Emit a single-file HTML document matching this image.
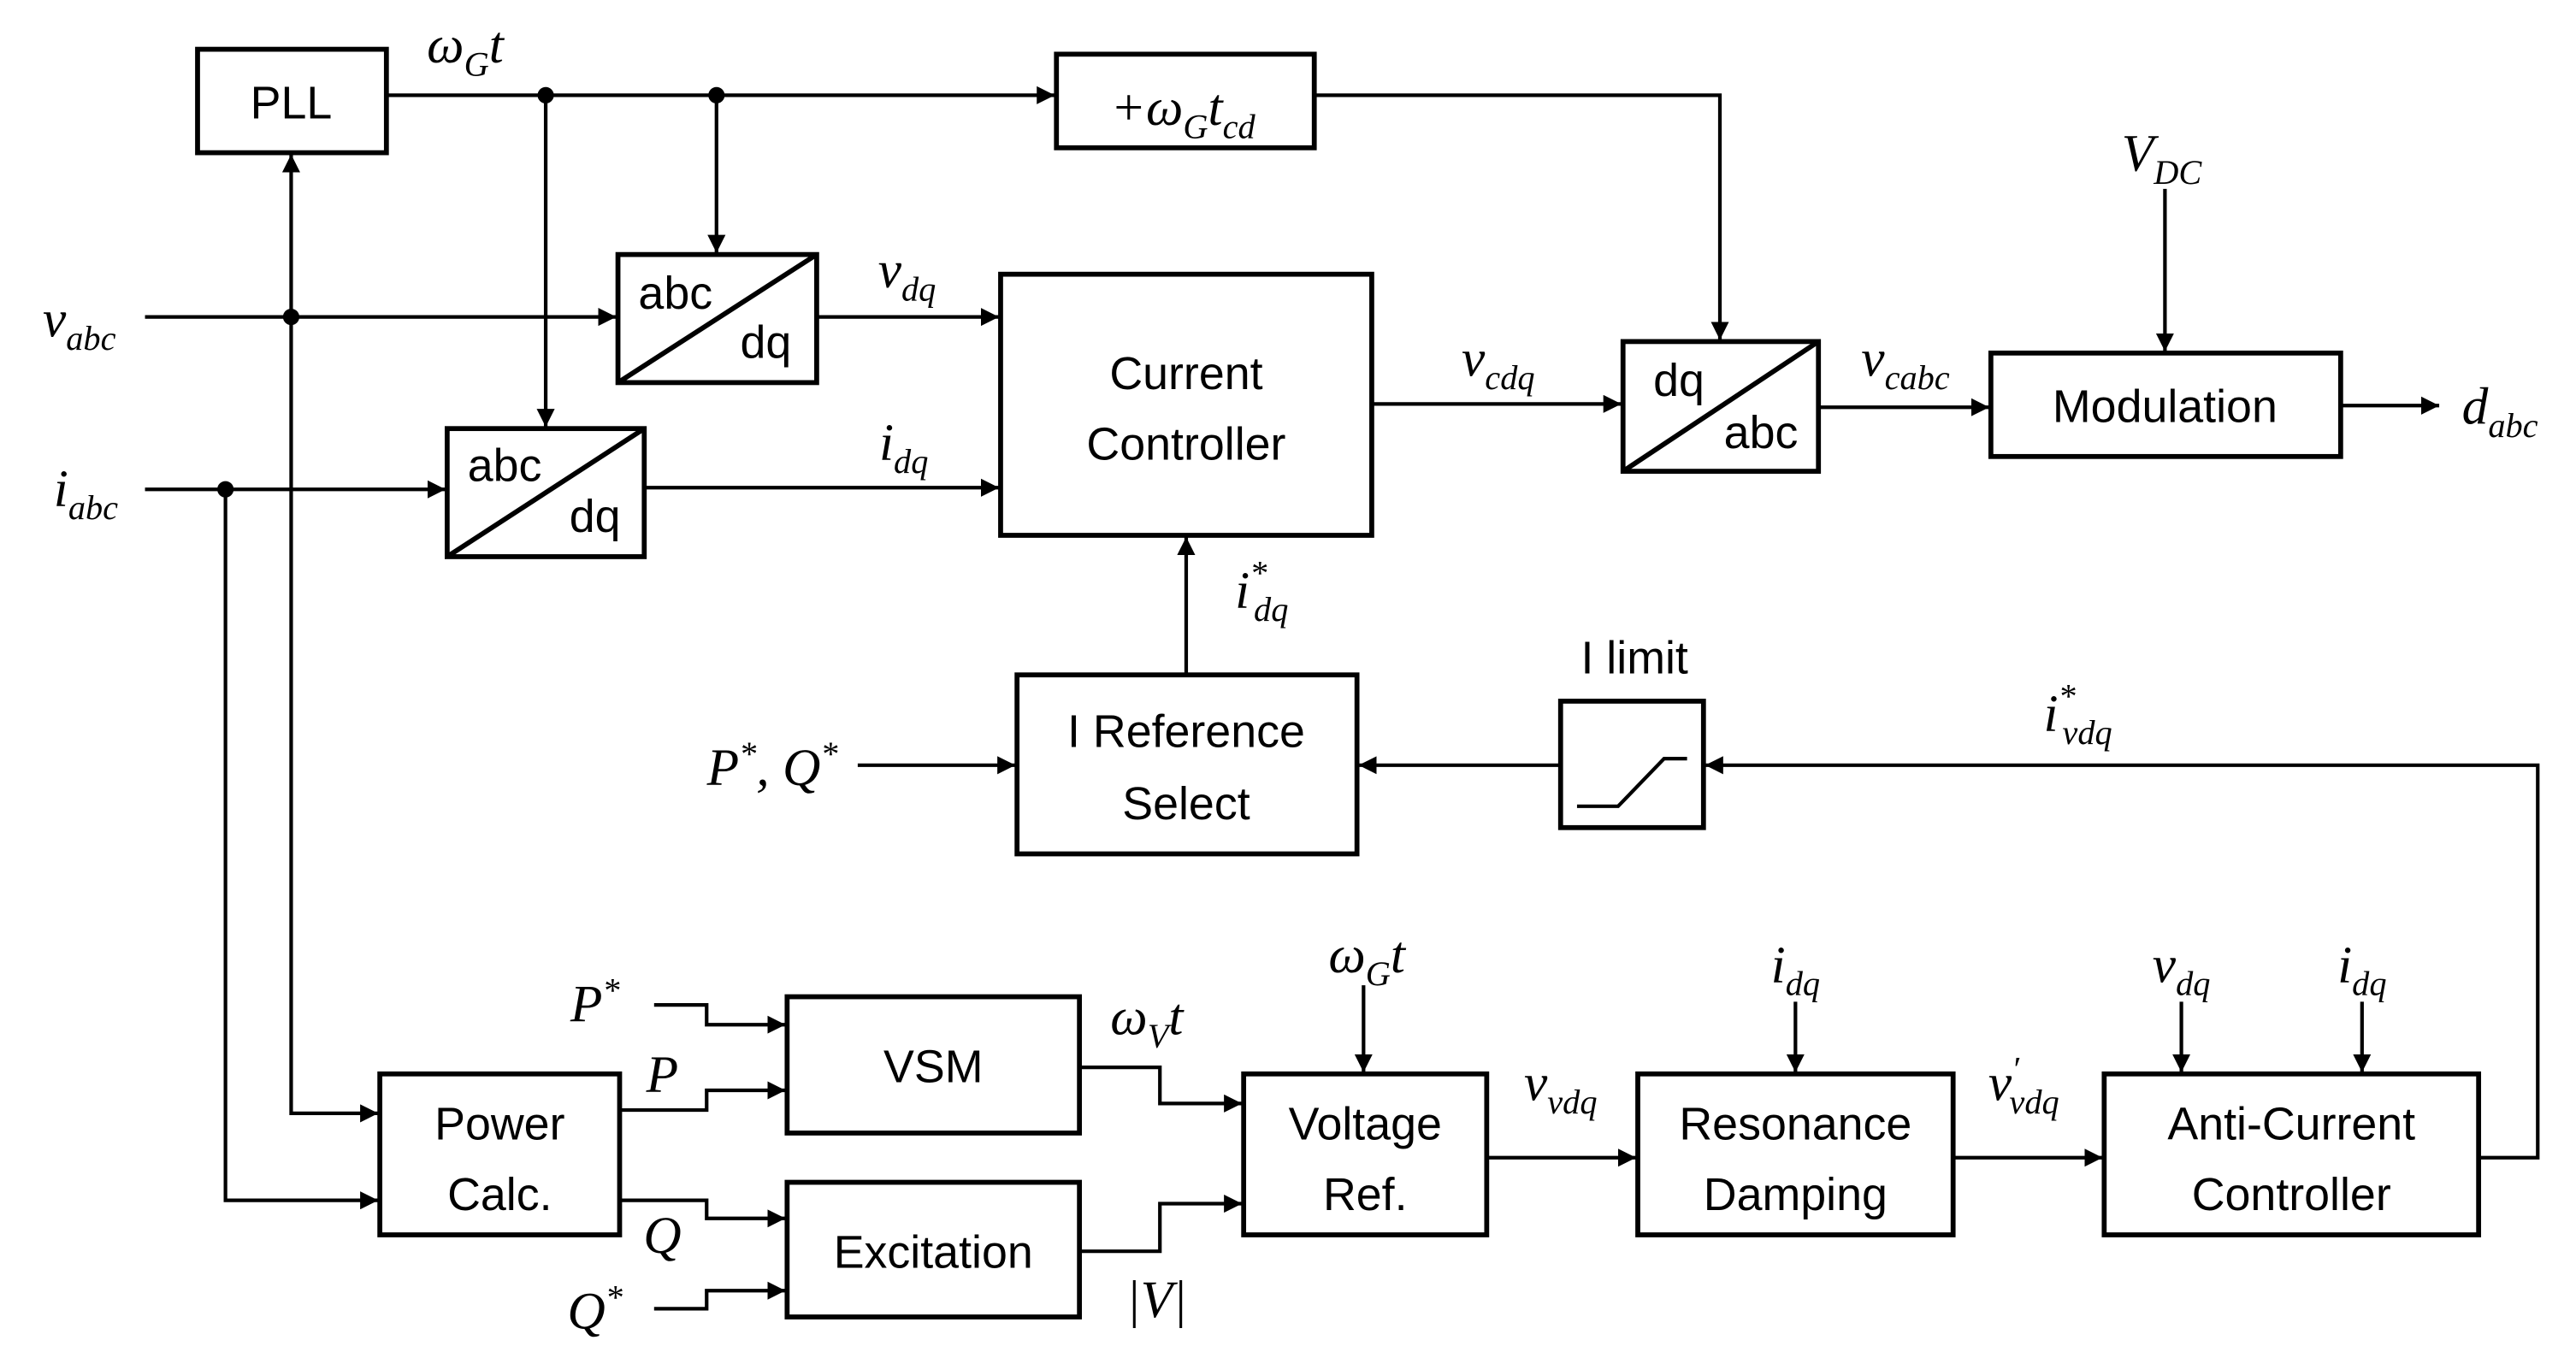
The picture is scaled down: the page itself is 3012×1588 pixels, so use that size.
<!DOCTYPE html>
<html><head><meta charset="utf-8"><style>html,body{margin:0;padding:0;background:#fff}svg{display:block}
.b{fill:none;stroke:#000;stroke-width:3}
.l{fill:none;stroke:#000;stroke-width:2.2}
.t{font-family:"Liberation Sans",sans-serif;font-size:28px;text-anchor:middle}
.m{font-family:"Liberation Serif",serif;font-style:italic;font-size:32px;text-anchor:middle}
.s{font-size:21px}
</style></head><body>
<svg width="3012" height="1588" viewBox="0 0 1568 827" xmlns="http://www.w3.org/2000/svg">
<defs><marker id="a" viewBox="0 0 10 10" refX="10" refY="5" markerWidth="5" markerHeight="5" orient="auto" markerUnits="strokeWidth"><path d="M0,0L10,5L0,10z"/></marker></defs>
<g class="b">
<rect x="120" y="30" width="115" height="63"/>
<rect x="643" y="33" width="157" height="57"/>
<rect x="376" y="155" width="121" height="78"/><line x1="376" y1="233" x2="497" y2="155"/>
<rect x="272" y="261" width="120" height="78"/><line x1="272" y1="339" x2="392" y2="261"/>
<rect x="609" y="167" width="226" height="159"/>
<rect x="988" y="208" width="119" height="79"/><line x1="988" y1="287" x2="1107" y2="208"/>
<rect x="1212" y="215" width="213" height="63"/>
<rect x="619" y="411" width="207" height="109"/>
<rect x="950" y="427" width="87" height="77"/>
<rect x="479" y="607" width="178" height="83"/>
<rect x="479" y="720" width="178" height="82"/>
<rect x="231" y="654" width="146" height="98"/>
<rect x="757" y="654" width="148" height="98"/>
<rect x="997" y="654" width="192" height="98"/>
<rect x="1281" y="654" width="228" height="98"/>
</g>
<path class="l" d="M960,491H985L1013,462H1027"/>
<g class="l" marker-end="url(#a)">
<path d="M235,58H642"/>
<path d="M800,58H1047V207"/>
<path d="M436,58V154"/>
<path d="M332,58V260"/>
<path d="M88,193H375"/>
<path d="M177,193V94"/>
<path d="M177,193V678H230"/>
<path d="M88,298H271"/>
<path d="M137,298V731H230"/>
<path d="M497,193H608"/>
<path d="M392,297H608"/>
<path d="M835,246H987"/>
<path d="M1107,248H1211"/>
<path d="M1318,115V214"/>
<path d="M1425,247H1485"/>
<path d="M722,411V327"/>
<path d="M522,466H618"/>
<path d="M950,466H827"/>
<path d="M1509,705H1545V466H1038"/>
<path d="M398,612H430V624H478"/>
<path d="M377,676H430V664H478"/>
<path d="M377,731H430V742H478"/>
<path d="M398,797H430V786H478"/>
<path d="M657,650H706V672H756"/>
<path d="M657,762H706V733H756"/>
<path d="M830,600V653"/>
<path d="M905,705H996"/>
<path d="M1093,610V653"/>
<path d="M1189,705H1280"/>
<path d="M1328,610V653"/>
<path d="M1438,610V653"/>
</g>
<g><circle cx="332" cy="58" r="5"/><circle cx="436" cy="58" r="5"/><circle cx="177" cy="193" r="5"/><circle cx="137" cy="298" r="5"/></g>
<g class="t">
<text x="177" y="72">PLL</text>
<text x="411" y="188">abc</text><text x="466" y="218">dq</text>
<text x="307" y="293">abc</text><text x="362" y="324">dq</text>
<text x="722" y="237">Current</text><text x="722" y="280">Controller</text>
<text x="1022" y="241">dq</text><text x="1072" y="273">abc</text>
<text x="1318" y="257">Modulation</text>
<text x="722" y="455">I Reference</text><text x="722" y="499">Select</text>
<text x="995" y="410">I limit</text>
<text x="568" y="659">VSM</text>
<text x="568" y="772">Excitation</text>
<text x="304" y="694">Power</text><text x="304" y="737">Calc.</text>
<text x="831" y="694">Voltage</text><text x="831" y="737">Ref.</text>
<text x="1093" y="694">Resonance</text><text x="1093" y="737">Damping</text>
<text x="1395" y="694">Anti-Current</text><text x="1395" y="737">Controller</text>
</g>
<g class="m">
<text x="283" y="38">ω<tspan class="s" dy="8">G</tspan><tspan dy="-8">t</tspan></text>
<text x="720" y="76">+ω<tspan class="s" dy="8">G</tspan><tspan dy="-8">t</tspan><tspan class="s" dy="8">cd</tspan></text>
<text x="48" y="205">v<tspan class="s" dy="8">abc</tspan></text>
<text x="52" y="308">i<tspan class="s" dy="8">abc</tspan></text>
<text x="552" y="175">v<tspan class="s" dy="8">dq</tspan></text>
<text x="550" y="280">i<tspan class="s" dy="8">dq</tspan></text>
<text x="912" y="229">v<tspan class="s" dy="8">cdq</tspan></text>
<text x="1160" y="229">v<tspan class="s" dy="8">cabc</tspan></text>
<text x="1316" y="104">V<tspan class="s" dy="8">DC</tspan></text>
<text x="1522" y="258">d<tspan class="s" dy="8">abc</tspan></text>
<text x="768" y="370">i<tspan class="s" dy="-14">*</tspan><tspan class="s" dx="-8" dy="22">dq</tspan></text>
<text x="470" y="478">P<tspan class="s" dy="-12">*</tspan><tspan dy="12">, Q</tspan><tspan class="s" dy="-12">*</tspan></text>
<text x="1265" y="445">i<tspan class="s" dy="-14">*</tspan><tspan class="s" dx="-8" dy="22">vdq</tspan></text>
<text x="362" y="622">P<tspan class="s" dy="-12">*</tspan></text>
<text x="403" y="665">P</text>
<text x="403" y="763">Q</text>
<text x="362" y="809">Q<tspan class="s" dy="-12">*</tspan></text>
<text x="698" y="630">ω<tspan class="s" dy="8">V</tspan><tspan dy="-8">t</tspan></text>
<text x="704" y="802">|V|</text>
<text x="832" y="592">ω<tspan class="s" dy="8">G</tspan><tspan dy="-8">t</tspan></text>
<text x="950" y="670">v<tspan class="s" dy="8">vdq</tspan></text>
<text x="1093" y="598">i<tspan class="s" dy="8">dq</tspan></text>
<text x="1232" y="670">v<tspan class="s" dy="-12">′</tspan><tspan class="s" dx="-6" dy="20">vdq</tspan></text>
<text x="1328" y="598">v<tspan class="s" dy="8">dq</tspan></text>
<text x="1438" y="598">i<tspan class="s" dy="8">dq</tspan></text>
</g>
</svg>
</body></html>
